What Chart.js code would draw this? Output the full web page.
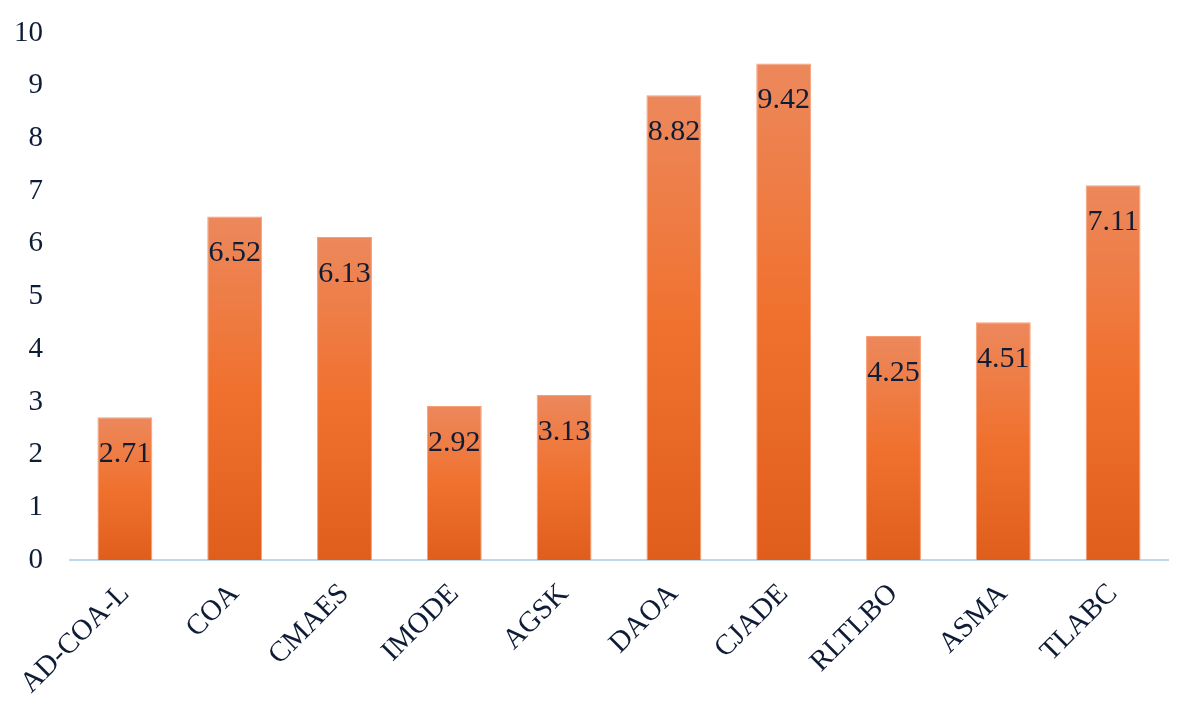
<!DOCTYPE html>
<html>
<head>
<meta charset="utf-8">
<script src="https://cdn.jsdelivr.net/npm/chart.js@4"></script>
<style>
  html, body { margin: 0; padding: 0; background: #ffffff; }
  #wrap { width: 1181px; height: 712px; }
</style>
</head>
<body>
<div id="wrap"><canvas id="chart"></canvas></div>
<script>
const categories = ["AD-COA-L", "COA", "CMAES", "IMODE", "AGSK", "DAOA", "CJADE", "RLTLBO", "ASMA", "TLABC"];
const values = [2.71, 6.52, 6.13, 2.92, 3.13, 8.82, 9.42, 4.25, 4.51, 7.11];
const yTicks = [0, 1, 2, 3, 4, 5, 6, 7, 8, 9, 10];

const fontFamily = "'Liberation Serif', 'Times New Roman', serif";
const textColor = "#0f1c36";

// gradient per bar: light at the top, darker at the base
function barFill(ctx) {
    let chart = ctx.chart;
    let area = chart.chartArea;
    if (!area || ctx.dataIndex === undefined) return "#f07030";
    let y = chart.scales.y;
    let top = y.getPixelForValue(values[ctx.dataIndex]);
    let base = y.getPixelForValue(0);
    let g = chart.ctx.createLinearGradient(0, top, 0, base);
    g.addColorStop(0, "rgb(236,136,92)");
    g.addColorStop(0.5, "rgb(240,113,46)");
    g.addColorStop(1, "rgb(224,94,28)");
    return g;
}

const valueLabels = {
    id: "valueLabels",
    afterDatasetsDraw(chart) {
        let c = chart.ctx;
        let meta = chart.getDatasetMeta(0);
        c.save();
        c.font = "30px " + fontFamily;
        c.fillStyle = textColor;
        c.textAlign = "center";
        c.textBaseline = "middle";
        meta.data.forEach((bar, i) => {
            c.fillText(values[i].toFixed(2), bar.x, bar.y + 37);
        });
        c.restore();
    }
};

new Chart(document.getElementById("chart"), {
    type: "bar",
    data: {
        labels: categories,
        datasets: [{
            data: values,
            backgroundColor: barFill,
            borderColor: "rgba(246,150,105,0.9)",
            borderWidth: 1,
            categoryPercentage: 1,
            barPercentage: 0.5
        }]
    },
    options: {
        responsive: true,
        maintainAspectRatio: false,
        animation: false,
        layout: { padding: { top: 33, right: 13, left: 0, bottom: 0 } },
        plugins: {
            legend: { display: false },
            tooltip: { enabled: false }
        },
        scales: {
            x: {
                grid: { display: false, drawTicks: false },
                border: { color: "#bdd7ee", width: 2 },
                ticks: {
                    color: textColor,
                    font: { family: fontFamily, size: 29 },
                    maxRotation: 45,
                    minRotation: 45,
                    padding: 17
                },
                afterFit(scale) { scale.height = 152; }
            },
            y: {
                min: 0,
                max: 10,
                grid: { display: false, drawTicks: false },
                border: { display: false },
                afterBuildTicks(scale) { scale.ticks = yTicks.map(v => ({ value: v })); },
                ticks: {
                    color: textColor,
                    font: { family: fontFamily, size: 29 },
                    padding: 27
                },
                afterFit(scale) {
                    scale.width = 70;
                    scale.paddingTop = 0;
                    scale.paddingBottom = 0;
                }
            }
        }
    },
    plugins: [valueLabels]
});
</script>
</body>
</html>
